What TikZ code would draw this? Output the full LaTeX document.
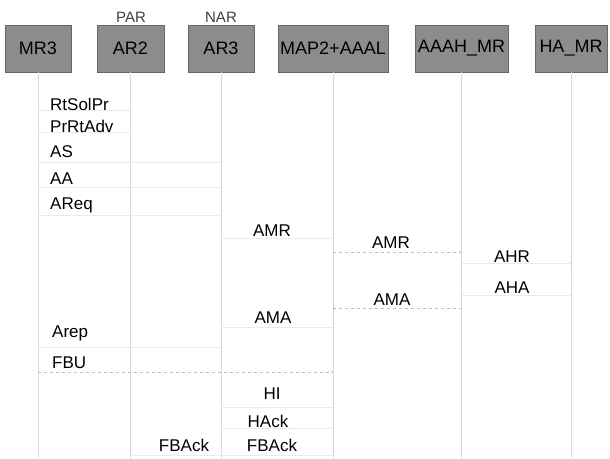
\documentclass[tikz,border=0pt]{standalone}
\usepackage{fontspec}
\setmainfont{Liberation Sans}
\begin{document}
\begin{tikzpicture}[x=1pt, y=-1pt,
	ent/.style={draw=black!60, fill=black!45, minimum height=47pt, inner sep=0pt, font=\fontsize{18}{18}\selectfont},
	lbl/.style={inner sep=0pt, font=\fontsize{17}{17}\selectfont},
	life/.style={black!15, thin},
	msg/.style={->, black!8, thin},
	dmsg/.style={->, black!25, thin, dashed}]
	\useasboundingbox (0,0) rectangle (610,458);
	% entities
	\node [ent, minimum width=66pt] (mr3) at (38,48.5) {MR3};
	\node [ent, minimum width=67pt] (ar2) at (130.5,48.5) {AR2};
	\node [ent, minimum width=66pt] (ar3) at (221,48.5) {AR3};
	\node [ent, minimum width=110pt] (map) at (333,48.5) {MAP2+AAAL};
	\node [ent, minimum width=93pt] (aaah) at (461.5,48.5) {AAAH\_MR};
	\node [ent, minimum width=72pt] (ha) at (571,48.5) {HA\_MR};
	\node [inner sep=0pt, text=black!75, font=\fontsize{15}{15}\selectfont] (par) at (131,17) {PAR};
	\node [inner sep=0pt, text=black!75, font=\fontsize{15}{15}\selectfont] (nar) at (221,17) {NAR};
	% lifelines
	\draw [life] (mr3.south) -- (mr3.south |- 0,458);
	\draw [life] (ar2.south) -- (ar2.south |- 0,458);
	\draw [life] (ar3.south) -- (ar3.south |- 0,458);
	\draw [life] (map.south) -- (map.south |- 0,458);
	\draw [life] (aaah.south) -- (aaah.south |- 0,458);
	\draw [life] (ha.south) -- (ha.south |- 0,458);
	% messages
	\draw [msg] (mr3 |- 0,110) -- (ar2 |- 0,110);
	\draw [msg] (ar2 |- 0,132) -- (mr3 |- 0,132);
	\draw [msg] (mr3 |- 0,162) -- (ar3 |- 0,162);
	\draw [msg] (ar3 |- 0,187) -- (mr3 |- 0,187);
	\draw [msg] (mr3 |- 0,215) -- (ar3 |- 0,215);
	\draw [msg] (ar3 |- 0,238) -- (map |- 0,238);
	\draw [dmsg] (map |- 0,252) -- (aaah |- 0,252);
	\draw [msg] (aaah |- 0,263) -- (ha |- 0,263);
	\draw [msg] (ha |- 0,295) -- (aaah |- 0,295);
	\draw [dmsg] (aaah |- 0,308) -- (map |- 0,308);
	\draw [msg] (map |- 0,327) -- (ar3 |- 0,327);
	\draw [msg] (ar3 |- 0,347) -- (mr3 |- 0,347);
	\draw [dmsg] (mr3 |- 0,372) -- (map |- 0,372);
	\draw [msg] (map |- 0,407) -- (ar3 |- 0,407);
	\draw [msg] (ar3 |- 0,428) -- (map |- 0,428);
	\draw [msg] (map |- 0,455) -- (ar3 |- 0,455);
	\draw [msg] (ar3 |- 0,455) -- (ar2 |- 0,455);
	% labels
	\node [lbl, anchor=west] (rtsolpr) at (50,104) {RtSolPr};
	\node [lbl, anchor=west] (prrtadv) at (50,126) {PrRtAdv};
	\node [lbl, anchor=west] (as) at (50,152) {AS};
	\node [lbl, anchor=west] (aa) at (50,179) {AA};
	\node [lbl, anchor=west] (areq) at (50,205) {AReq};
	\node [lbl] (amr1) at (272,231) {AMR};
	\node [lbl] (amr2) at (391,243) {AMR};
	\node [lbl] (ahr) at (512,257) {AHR};
	\node [lbl] (aha) at (512,288) {AHA};
	\node [lbl] (ama2) at (392,300) {AMA};
	\node [lbl] (ama1) at (273,318) {AMA};
	\node [lbl, anchor=west] (arep) at (52,333) {Arep};
	\node [lbl, anchor=west] (fbu) at (52,363) {FBU};
	\node [lbl] (hi) at (272,394) {HI};
	\node [lbl] (hack) at (268,421) {HAck};
	\node [lbl] (fback2) at (272,445) {FBAck};
	\node [lbl] (fback1) at (184,445) {FBAck};
\end{tikzpicture}
\end{document}
